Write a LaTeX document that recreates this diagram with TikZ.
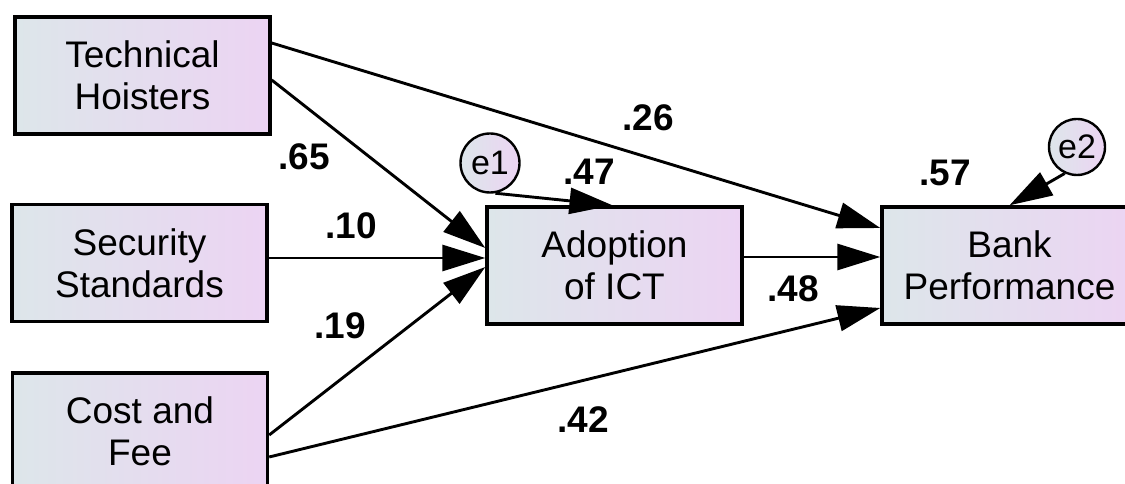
\documentclass[tikz,border=0pt]{standalone}
\usepackage{fontspec}
\setmainfont{Liberation Sans}
\usetikzlibrary{calc, positioning, shapes, arrows.meta}
\definecolor{boxleft}{RGB}{221,230,234}
\definecolor{boxright}{RGB}{236,212,243}

\begin{document}
\begin{tikzpicture}[x=1pt,y=1pt,
    obsvar/.style={draw=black,line width=3.4pt,left color=boxleft,right color=boxright,
        minimum width=255pt,minimum height=117pt,inner sep=0pt,align=center,
        font=\fontsize{37}{42}\selectfont},
    err/.style={circle,draw=black,line width=2.4pt,left color=boxleft,right color=boxright,
        minimum size=59pt,inner sep=0pt,font=\fontsize{34}{38}\selectfont},
    regr/.style={line width=2.9pt,-{Triangle[length=43pt,width=26pt]}},
    coef/.style={font=\fontsize{37}{40}\selectfont\bfseries}]
    \useasboundingbox (0,0) rectangle (1125,484);
    \clip (0,0) rectangle (1125,484);

    \node[obsvar] (th) at (142.5,408.5) {Technical\\Hoisters};
    \node[obsvar] (ss) at (139.5,221) {Security\\Standards};
    \node[obsvar] (cf) at (140,52.5) {Cost and\\Fee};
    \node[obsvar] (ad) at (614.5,218.5) {Adoption\\of ICT};
    \node[obsvar] (bp) at (1009.5,218.5) {Bank\\Performance};
    \node[err] (e1) at (490,321) {e1};
    \node[err,minimum size=56pt] (e2) at (1077,337) {e2};

    \draw[regr] ([yshift=-4.5pt]th.east) -- ([yshift=17.5pt]ad.west); %.65
    \draw[regr] ([yshift=32.5pt]th.east) -- ([yshift=37.5pt]bp.west); %.26
    \draw[regr] ([yshift=5pt]ss.east) -- ([yshift=7.5pt]ad.west); %.10
    \draw[regr] ([yshift=-3.5pt]cf.east) -- ([yshift=-1.5pt]ad.west); %.19
    \draw[regr] ([yshift=-25.5pt]cf.east) -- ([yshift=-42.5pt]bp.west); %.42
    \draw[regr] ([yshift=8.5pt]ad.east) -- ([yshift=8.5pt]bp.west); %.48
    \draw[regr] (e1.-80) -- ([xshift=-2pt]ad.north);
    \draw[regr] (e2.-115) -- (bp.north);

    \node[coef] (c26) at (648,366) {.26};
    \node[coef] (c65) at (304,327) {.65};
    \node[coef] (c10) at (351,258) {.10};
    \node[coef] (c19) at (340,158) {.19};
    \node[coef] (c47) at (589,312) {.47};
    \node[coef] (c57) at (945,311) {.57};
    \node[coef] (c48) at (793,195) {.48};
    \node[coef] (c42) at (583,64) {.42};
\end{tikzpicture}
\end{document}
